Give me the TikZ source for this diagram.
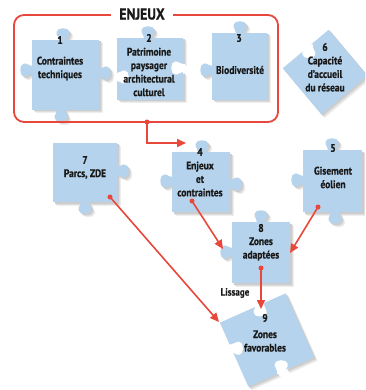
\documentclass[tikz,border=0pt]{standalone}
\usepackage{fontspec}
\setmainfont{PT Sans}
\newfontfamily\pfont{PT Sans}[FakeStretch=0.86, BoldFeatures={FakeBold=0.6}]
\usetikzlibrary{arrows.meta}
\definecolor{pblue}{HTML}{B5D3EC}
\definecolor{ered}{HTML}{E8473B}
\tikzset{
  knob/.pic={\fill (-4,1) -- (-4,0) .. controls (-3.5,-3) and (-7,-4) .. (-6.5,-8) .. controls (-6,-13) and (6,-13) .. (6.5,-8) .. controls (7,-4) and (3.5,-3) .. (4,0) -- (4,1) -- cycle;},
  notch/.pic={\fill[white] (-4,-2) -- (-4,0) .. controls (-3.5,3) and (-7,4) .. (-6.5,8) .. controls (-6,13) and (6,13) .. (6.5,8) .. controls (7,4) and (3.5,3) .. (4,0) -- (4,-2) -- cycle;},
  lbl/.style={font=\pfont\bfseries\fontsize{11}{13.5}\selectfont, align=center, inner sep=0pt, text=black!90},
  rarrow/.style={draw=ered, line width=1.6pt, -{Triangle[length=9pt,width=8pt]}},
  rdot/.style={fill=ered}
}
\newcommand\PieceOne{\begin{scope}[shift={(65.5,75)}]
  \fill (-33.5,-35) rectangle (33.5,35);
  \pic at (-2.5,-35) {knob};
  \pic[rotate=90] at (-33.5,-5) {knob};
  \pic[rotate=-90] at (33.5,-2) {knob};
  \pic[rotate=180] at (-4.5,35) {knob};
\end{scope}}
\newcommand\PieceTwo{\begin{scope}[shift={(150,69)}]
  \fill (-33,-31) rectangle (33,31);
  \pic at (-2,-31) {knob};
  \pic[rotate=-90] at (33,-1) {notch};
  \pic[rotate=90] at (-33,8) {notch};
\end{scope}}
\newcommand\PieceThree{\begin{scope}[shift={(239.5,66.5)}]
  \fill (-27.5,-33.5) rectangle (27.5,33.5);
  \pic at (0.5,-33.5) {knob};
  \pic[rotate=90] at (-27.5,3.5) {knob};
\end{scope}}
\newcommand\PieceSix{\begin{scope}[shift={(325,72)}, rotate=40]
  \fill (-30,-30) rectangle (30,30);
  \pic at (4,-30) {notch};
\end{scope}}
\newcommand\PieceSeven{\begin{scope}[shift={(85,172.5)}]
  \fill (-32,-29.5) rectangle (32,29.5);
  \pic[rotate=-90] at (32,-1.5) {knob};
  \pic[rotate=180] at (0,29.5) {knob};
\end{scope}}
\newcommand\PieceFour{\begin{scope}[shift={(201,182)}]
  \fill (-29,-30) rectangle (29,30);
  \pic at (1,-30) {knob};
  \pic[rotate=90] at (-29,-1) {knob};
  \pic[rotate=-90] at (29,2) {knob};
\end{scope}}
\newcommand\PieceFive{\begin{scope}[shift={(332.5,181)}]
  \fill (-29.5,-31) rectangle (29.5,31);
  \pic at (-0.5,-31) {knob};
  \pic[rotate=90] at (-29.5,-1) {knob};
  \pic[rotate=180] at (2.5,31) {knob};
\end{scope}}
\newcommand\PieceEight{\begin{scope}[shift={(261,252.5)}]
  \fill (-29,-30.5) rectangle (29,30.5);
  \pic at (0,-30.5) {knob};
  \pic[rotate=90] at (-29,-0.5) {knob};
\end{scope}}
\newcommand\PieceNine{\begin{scope}[shift={(267,340)}, rotate=24]
  \fill (-36,-35) rectangle (36,35);
  \pic at (8,-35) {notch};
  \pic[rotate=180] at (0,35) {notch};
  \pic[rotate=90] at (-36,-7) {notch};
\end{scope}}
\newcommand\AllPieces{\PieceOne\PieceTwo\PieceThree\PieceSix\PieceSeven\PieceFour\PieceFive\PieceEight\PieceNine}
\begin{document}
\begin{tikzpicture}[x=1pt,y=-1pt]
\useasboundingbox (0,0) rectangle (365,390);
\clip (0,0) rectangle (365,390);
% shadows
\begin{scope}[shift={(3.5,3.5)}, fill=black!7] \AllPieces \end{scope}
\begin{scope}[shift={(2.5,2.5)}, fill=black!13] \AllPieces \end{scope}
\begin{scope}[shift={(1.5,1.5)}, fill=black!20] \AllPieces \end{scope}
% pieces
\begin{scope}[fill=pblue] \AllPieces \end{scope}
% ENJEUX frame
\draw[ered, line width=1.8pt, rounded corners=10pt] (14,15) rectangle (278,122);
\node[fill=white, inner xsep=8pt, inner ysep=1pt, font=\pfont\bfseries\fontsize{16}{18}\selectfont, text=black!90] (enjeux) at (142,14) {ENJEUX};
% labels
\node[lbl] (n1) at (60,40) {1};
\node[lbl] (t1) at (60,68.5) {Contraintes\\techniques};
\node[lbl] (n2) at (149,38) {2};
\node[lbl] (t2) at (149,72) {Patrimoine\\paysager\\architectural\\culturel};
\node[lbl] (n3) at (239,38) {3};
\node[lbl] (t3) at (240,70) {Biodiversité};
\node[lbl] (n6) at (325,47) {6};
\node[lbl] (t6) at (325,74) {Capacité\\d’accueil\\du réseau};
\node[lbl] (n7) at (85,160) {7};
\node[lbl] (t7) at (85,174) {Parcs, ZDE};
\node[lbl] (n4) at (200,152) {4};
\node[lbl] (t4) at (200,179) {Enjeux\\et\\contraintes};
\node[lbl] (n5) at (333,148) {5};
\node[lbl] (t5) at (333,177.5) {Gisement\\éolien};
\node[lbl] (n8) at (261,228) {8};
\node[lbl] (t8) at (261,249) {Zones\\adaptées};
\node[lbl] (n9) at (265,318) {9};
\node[lbl] (t9) at (265,341) {Zones\\favorables};
\node[lbl, font=\pfont\bfseries\fontsize{10.5}{12}\selectfont] (liss) at (235,293) {Lissage};
% connectors
\coordinate (d0) at (147,122);
\coordinate (k0) at (147,143);
\coordinate (a0) at (186,143);
\coordinate (d7) at (110,197);
\coordinate (a7) at (219,322);
\coordinate (d4) at (192,201);
\coordinate (a4) at (223,249);
\coordinate (d5) at (318,207);
\coordinate (a5) at (290,253);
\coordinate (d8) at (261,268);
\coordinate (a8) at (261,309);
\draw[rarrow] (d0) -- (k0) -- (a0);
\draw[rarrow] (d7) -- (a7);
\draw[rarrow] (d4) -- (a4);
\draw[rarrow] (d5) -- (a5);
\draw[rarrow] (d8) -- (a8);
\foreach \d in {d0,d7,d4,d5,d8} \fill[rdot] (\d) circle (2.5);
\end{tikzpicture}
\end{document}
